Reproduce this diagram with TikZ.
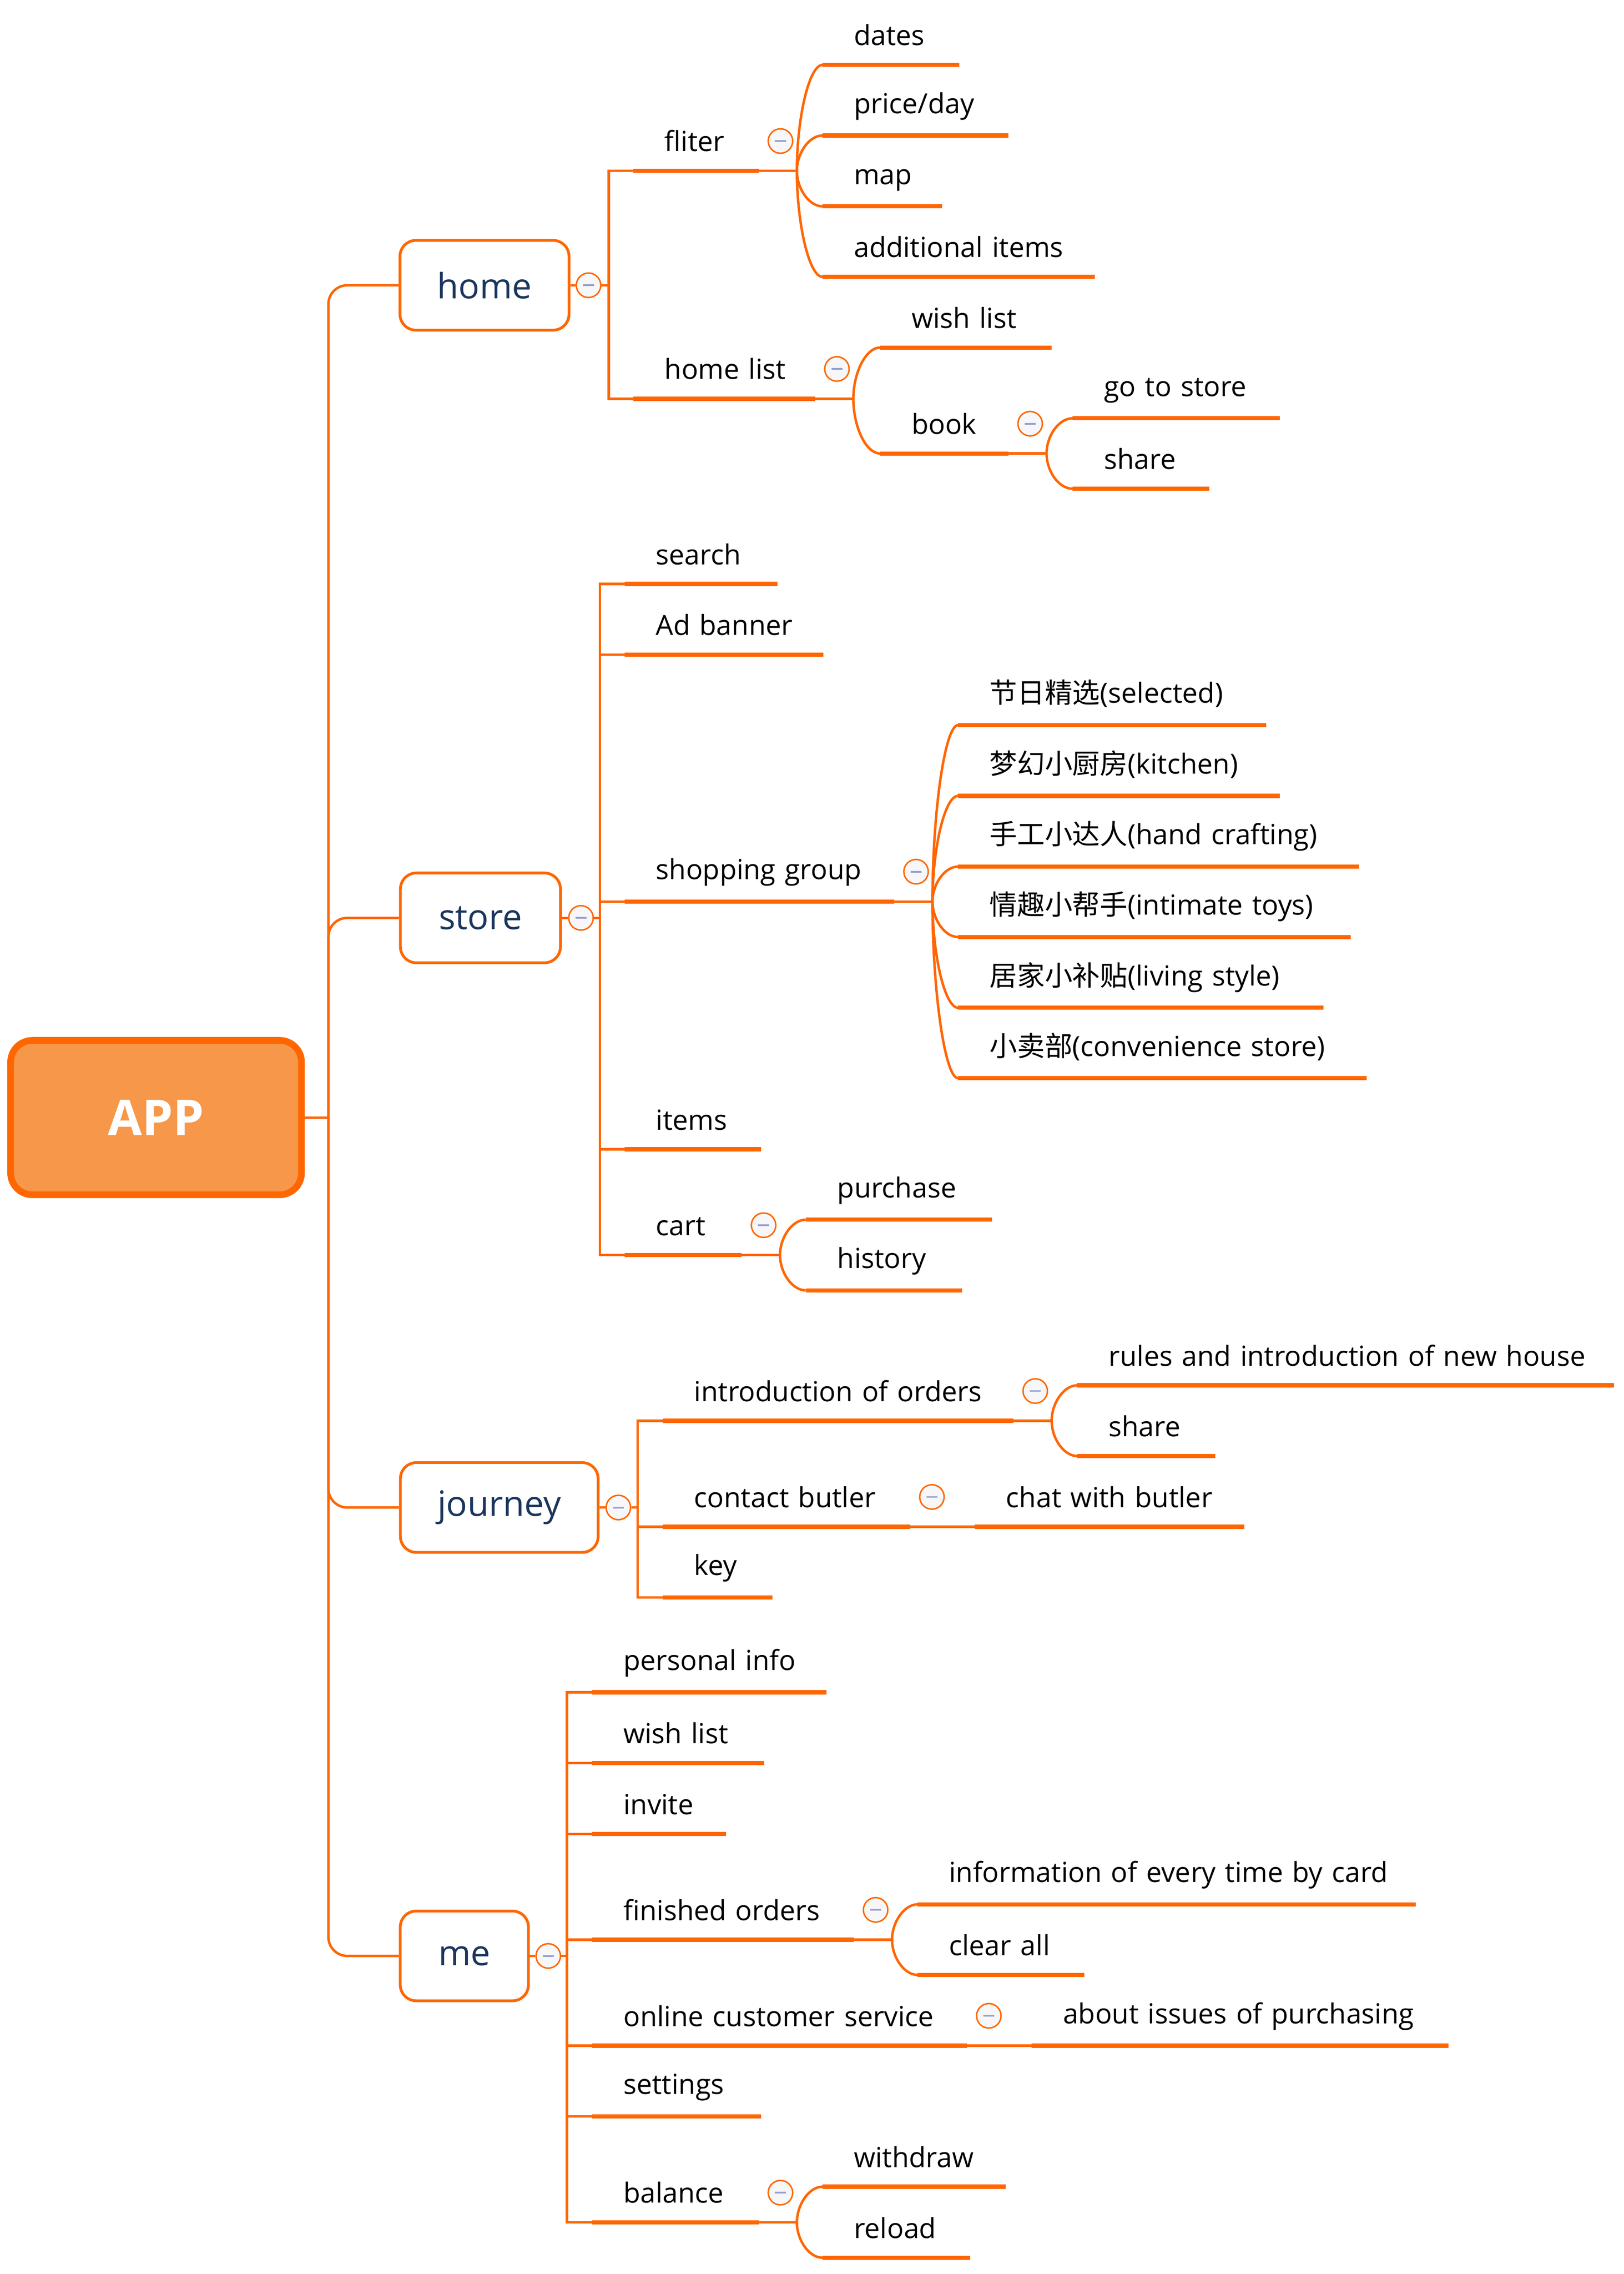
\documentclass[tikz,border=0pt]{standalone}
\usepackage{fontspec}
\setmainfont{Open Sans}
\newfontfamily\cjk{Noto Sans CJK SC}
\usetikzlibrary{calc}
\definecolor{xorange}{RGB}{255,102,0}
\definecolor{appfill}{RGB}{246,151,73}
\definecolor{navy}{RGB}{27,54,93}
\definecolor{cfill}{RGB}{247,247,249}
\definecolor{minuscol}{RGB}{150,160,210}
\newcommand\fanline[2]{\draw[conn] (#1) .. controls ($(#1)!0.5!(#1 |- #2.south west)$) and ($(#1 |- #2.south west)+(4.2pt,0)$) .. (#2.south west);}
\begin{document}
\begin{tikzpicture}[x=0.5pt,y=-0.5pt,
  conn/.style={draw=xorange, line width=0.85pt},
  uline/.style={draw=xorange, line width=1.45pt},
  topic/.style={anchor=south west, inner xsep=11.5pt, inner ysep=0pt, text height=9pt, text depth=6.5pt, align=left, font=\fontsize{9.5}{11}\selectfont, text=black, execute at begin node={\hspace*{-0.9pt}}},
  desc/.style={text depth=7.4pt},
  mainbox/.style={draw=xorange, line width=0.95pt, rounded corners=5.5pt, fill=white, text=navy, font=\fontsize{12}{14}\selectfont, minimum height=30.85pt, inner sep=0pt},
  rootbox/.style={draw=xorange, line width=2.3pt, rounded corners=7.5pt, fill=appfill, text=white, font=\bfseries\fontsize{17}{20}\selectfont, inner sep=0pt},
  collapse/.style={circle, draw=xorange, line width=0.5pt, fill=cfill, minimum size=8.4pt, inner sep=0pt,
    path picture={\draw[minuscol, line width=0.6pt] ([xshift=-1.9pt]path picture bounding box.center) -- ([xshift=1.9pt]path picture bounding box.center);}},
]
\fill[white] (0,0) rectangle (1116,1562.4);
\useasboundingbox (0,0) rectangle (1116,1562.4);

% ---------- root and main branches ----------
\node[rootbox, minimum width=99.95pt, minimum height=53.05pt] (app) at (107.25,767.85) {APP};
\node[mainbox, minimum width=58.1pt] (home) at (333,196) {home};
\node[mainbox, minimum width=55pt] (store) at (330.2,630.65) {store};
\node[mainbox, minimum width=67.95pt] (journey) at (343.15,1035.75) {journey};
\node[mainbox, minimum width=44.05pt] (me) at (319.15,1343.85) {me};

\coordinate (trunk) at (225.7,767.85);
\coordinate (hb) at (418.4,196);
\coordinate (sb) at (412.3,630.65);
\coordinate (jb) at (438.3,1035.75);
\coordinate (mb) at (389.7,1343.85);

\node[collapse] (c-home) at (404.5,196) {};
\node[collapse] (c-store) at (399.3,630.65) {};
\node[collapse] (c-journey) at (425,1035.75) {};
\node[collapse] (c-me) at (376.8,1343.85) {};

% ---------- home ----------
\node[topic, text width=19.7pt] (fliter) at (435.2,117.4) {\mbox{fliter}};
\node[topic, text width=39.1pt] (homelist) at (435.2,274) {\mbox{home list}};
\node[topic, text width=23.55pt] (dates) at (565.3,44.6) {\mbox{dates}};
\node[topic, desc, text width=40.45pt] (priceday) at (565.3,93.1) {\mbox{price/day}};
\node[topic, desc, text width=17.7pt] (map) at (565.3,141.8) {\mbox{map}};
\node[topic, text width=70.1pt] (additional) at (565.3,190.2) {\mbox{additional items}};
\node[topic, text width=35.5pt] (wishA) at (605,238.8) {\mbox{wish list}};
\node[topic, text width=20.6pt] (book) at (605,311.6) {\mbox{book}};
\node[topic, desc, text width=47.8pt] (gotostore) at (737.2,287.4) {\mbox{go to store}};
\node[topic, text width=23.6pt] (shareA) at (737.2,335.8) {\mbox{share}};

% ---------- store ----------
\node[topic, text width=29.2pt] (search) at (429.2,401.2) {\mbox{search}};
\node[topic, text width=44.9pt] (adbanner) at (429.2,449.8) {\mbox{Ad banner}};
\node[topic, desc, text width=69.3pt] (shopping) at (429.2,619.4) {\mbox{shopping group}};
\node[topic, text width=23.5pt] (items) at (429.2,789.6) {\mbox{items}};
\node[topic, text width=16.9pt] (cart) at (429.2,862.3) {\mbox{cart}};
\node[topic, desc, text width=82.5pt] (sel) at (658.5,498.2) {\mbox{{\cjk 节日精选}(selected)}};
\node[topic, desc, text width=87.15pt] (kitchen) at (658.5,546.8) {\mbox{{\cjk 梦幻小厨房}(kitchen)}};
\node[topic, desc, text width=114.35pt] (craft) at (658.5,595.4) {\mbox{{\cjk 手工小达人}(hand crafting)}};
\node[topic, desc, text width=111.5pt] (toys) at (658.5,643.8) {\mbox{{\cjk 情趣小帮手}(intimate toys)}};
\node[topic, desc, text width=102.1pt] (living) at (658.5,692.4) {\mbox{{\cjk 居家小补贴}(living style)}};
\node[topic, desc, text width=117.05pt] (conv) at (658.5,740.8) {\mbox{{\cjk 小卖部}(convenience store)}};
\node[topic, desc, text width=40.55pt] (purchase) at (553.9,838) {\mbox{purchase}};
\node[topic, desc, text width=30.3pt] (history) at (553.9,886.6) {\mbox{history}};

% ---------- journey ----------
\node[topic, text width=97.1pt] (intro) at (455.5,976.2) {\mbox{introduction of orders}};
\node[topic, text width=61.6pt] (contact) at (455.5,1049) {\mbox{contact butler}};
\node[topic, desc, text width=14.25pt] (key) at (455.5,1097.6) {\mbox{key}};
\node[topic, text width=161.05pt] (rules) at (740.4,951.8) {\mbox{rules and introduction of new house}};
\node[topic, text width=24pt] (shareB) at (740.4,1000.4) {\mbox{share}};
\node[topic, text width=69.3pt] (chat) at (669.9,1049) {\mbox{chat with butler}};

% ---------- me ----------
\node[topic, desc, text width=57.2pt] (personal) at (406.9,1162.7) {\mbox{personal info}};
\node[topic, text width=35.85pt] (wishB) at (406.9,1211.4) {\mbox{wish list}};
\node[topic, text width=22.65pt] (invite) at (406.9,1260) {\mbox{invite}};
\node[topic, text width=66.55pt] (finished) at (406.9,1332.7) {\mbox{finished orders}};
\node[topic, text width=105.45pt] (online) at (406.9,1405.5) {\mbox{online customer service}};
\node[topic, desc, text width=34.65pt] (settings) at (406.9,1454.1) {\mbox{settings}};
\node[topic, text width=33.85pt] (balance) at (406.9,1527) {\mbox{balance}};
\node[topic, desc, text width=147.8pt] (info) at (630.7,1308.4) {\mbox{information of every time by card}};
\node[topic, text width=33.85pt] (clear) at (630.7,1356.9) {\mbox{clear all}};
\node[topic, desc, text width=119.85pt] (about) at (709,1405.5) {\mbox{about issues of purchasing}};
\node[topic, text width=39.6pt] (withdraw) at (565.3,1502.4) {\mbox{withdraw}};
\node[topic, text width=27.35pt] (reload) at (565.3,1551.2) {\mbox{reload}};

% ---------- forks and collapse buttons ----------
\foreach \n in {fliter,homelist,book,shopping,cart,intro,finished,balance}{
  \coordinate (fk-\n) at ([xshift=13.15pt]\n.south east);
}
\foreach \n in {fliter,homelist,book,shopping,cart,intro,contact,finished,online,balance}{
  \node[collapse] (c-\n) at ([xshift=7.5pt,yshift=10.25pt]\n.south east) {};
}

% ---------- connectors ----------
\draw[conn] (app.east) -- (trunk);
\foreach \b in {home,store,journey,me}{
  \draw[conn, rounded corners=6.5pt] (trunk) |- (\b.west);
}
\draw[conn] (home.east) -- (c-home.west);
\draw[conn] (c-home.east) -- (hb);
\draw[conn] (store.east) -- (c-store.west);
\draw[conn] (c-store.east) -- (sb);
\draw[conn] (journey.east) -- (c-journey.west);
\draw[conn] (c-journey.east) -- (jb);
\draw[conn] (me.east) -- (c-me.west);
\draw[conn] (c-me.east) -- (mb);

\foreach \n in {fliter,homelist}{\draw[conn] (hb) |- (\n.south west);}
\foreach \n in {search,adbanner,shopping,items,cart}{\draw[conn] (sb) |- (\n.south west);}
\foreach \n in {intro,contact,key}{\draw[conn] (jb) |- (\n.south west);}
\foreach \n in {personal,wishB,invite,finished,online,settings,balance}{\draw[conn] (mb) |- (\n.south west);}

\foreach \n in {fliter,homelist,book,shopping,cart,intro,finished,balance}{
  \draw[conn] (\n.south east) -- (fk-\n);
}
\fanline{fk-fliter}{dates}
\fanline{fk-fliter}{priceday}
\fanline{fk-fliter}{map}
\fanline{fk-fliter}{additional}
\fanline{fk-homelist}{wishA}
\fanline{fk-homelist}{book}
\fanline{fk-book}{gotostore}
\fanline{fk-book}{shareA}
\fanline{fk-shopping}{sel}
\fanline{fk-shopping}{kitchen}
\fanline{fk-shopping}{craft}
\fanline{fk-shopping}{toys}
\fanline{fk-shopping}{living}
\fanline{fk-shopping}{conv}
\fanline{fk-cart}{purchase}
\fanline{fk-cart}{history}
\fanline{fk-intro}{rules}
\fanline{fk-intro}{shareB}
\fanline{fk-finished}{info}
\fanline{fk-finished}{clear}
\fanline{fk-balance}{withdraw}
\fanline{fk-balance}{reload}
\draw[conn] (contact.south east) -- (chat.south west);
\draw[conn] (online.south east) -- (about.south west);

% ---------- underlines ----------
\foreach \n in {fliter,homelist,dates,priceday,map,additional,wishA,book,gotostore,shareA,
  search,adbanner,shopping,items,cart,sel,kitchen,craft,toys,living,conv,purchase,history,
  intro,contact,key,rules,shareB,chat,
  personal,wishB,invite,finished,online,settings,balance,info,clear,about,withdraw,reload}{
  \draw[uline] (\n.south west) -- (\n.south east);
}
\end{tikzpicture}
\end{document}
